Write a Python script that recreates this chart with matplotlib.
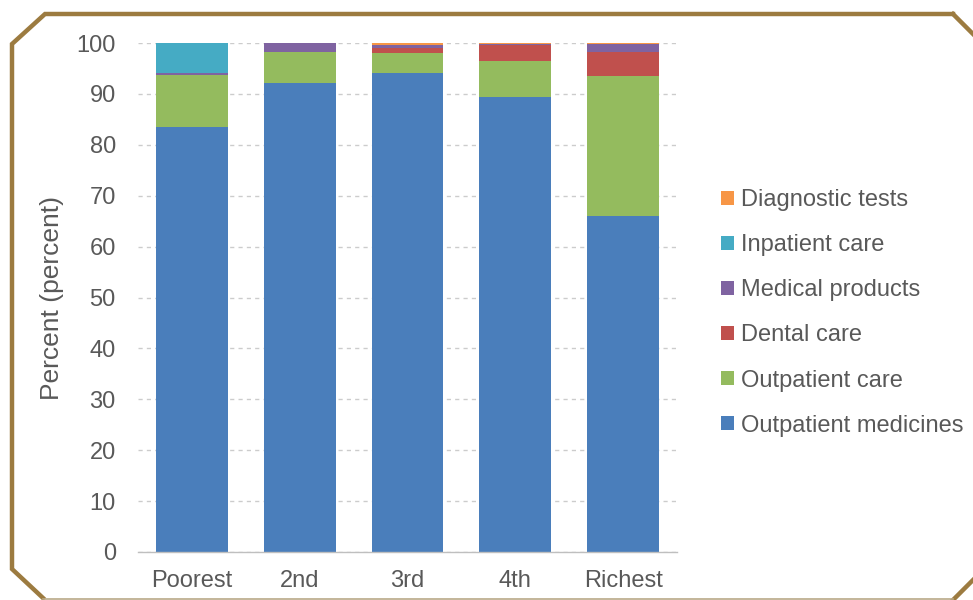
import numpy as np
import matplotlib.pyplot as plt
from matplotlib.lines import Line2D
from matplotlib.patches import Patch

plt.rcParams["font.family"] = ["Liberation Sans", "DejaVu Sans"]

quintiles = ["Poorest", "2nd", "3rd", "4th", "Richest"]

# share of out-of-pocket spending by quintile (percent)
outpatient_medicines = [83.5, 92.2, 94.2, 89.3, 66.1]
outpatient_care = [10.3, 6.1, 3.8, 7.2, 27.5]
dental_care = [0.0, 0.0, 1.1, 3.1, 4.6]
medical_products = [0.4, 1.7, 0.6, 0.2, 1.6]
inpatient_care = [5.8, 0.0, 0.0, 0.0, 0.0]
diagnostic_tests = [0.0, 0.0, 0.3, 0.2, 0.2]

series = [
    ("Outpatient medicines", outpatient_medicines, "#4a7ebb"),
    ("Outpatient care", outpatient_care, "#94bb5e"),
    ("Dental care", dental_care, "#c0504d"),
    ("Medical products", medical_products, "#7f63a1"),
    ("Inpatient care", inpatient_care, "#45abc4"),
    ("Diagnostic tests", diagnostic_tests, "#f79646"),
]

W, H = 973, 600
fig = plt.figure(figsize=(W / 100, H / 100), dpi=100)
ax = fig.add_axes([138 / W, (H - 552) / H, (677 - 138) / W, (552 - 43) / H])

text_color = "#595959"
x = np.arange(len(quintiles))
bottom = np.zeros(len(quintiles))
for name, vals, color in series:
    ax.bar(x, vals, width=0.667, bottom=bottom, color=color, label=name, zorder=2)
    bottom += np.array(vals)

ax.set_xlim(-0.5, len(quintiles) - 0.5)
ax.set_ylim(0, 100)
ax.set_yticks(range(0, 101, 10))
ax.set_xticks(x)
ax.set_xticklabels(quintiles)
ax.tick_params(length=0, labelsize=17, colors=text_color)
ax.tick_params(axis="y", pad=16)
ax.tick_params(axis="x", pad=13)

ax.yaxis.grid(True, color="#cccccc", linestyle=(0, (3, 3)), linewidth=1, zorder=0)
for side in ["top", "right", "left"]:
    ax.spines[side].set_visible(False)
ax.spines["bottom"].set_color("#bfbfbf")
ax.spines["bottom"].set_linewidth(1)

fig.text(52 / W, 1 - 298 / H, "Percent (percent)", rotation=90,
         ha="center", va="center", fontsize=19, color=text_color)

handles = [Patch(facecolor=c, edgecolor="none", label=n) for n, _, c in series[::-1]]
fig.legend(handles=handles, loc="upper left", bbox_to_anchor=(721 / W, 1 - 189 / H),
           frameon=False, fontsize=17, labelcolor=text_color,
           handlelength=0.55, handleheight=0.55, handletextpad=0.3,
           labelspacing=0.98, borderaxespad=0, borderpad=0)

# octagonal gold frame around the chart
gold = "#9c7b40"
fx = [953, 45, 12, 12, 43]
fy = [14, 14, 44, 569, 598]
fig.add_artist(Line2D([v / W for v in fx], [1 - v / H for v in fy],
                      transform=fig.transFigure, color=gold, linewidth=3.2,
                      solid_joinstyle="miter"))
fig.add_artist(Line2D([953 / W, 976 / W], [1 - 14 / H, 1 - 37 / H],
                      transform=fig.transFigure, color=gold, linewidth=3.2))
fig.add_artist(Line2D([953 / W, 976 / W], [1 - 600 / H, 1 - 577 / H],
                      transform=fig.transFigure, color=gold, linewidth=3.2))
fig.add_artist(Line2D([43 / W, 953 / W], [1 - 598.5 / H, 1 - 598.5 / H],
                      transform=fig.transFigure, color="#b9a987", linewidth=1.2))

fig.savefig("out.png", dpi=100)
